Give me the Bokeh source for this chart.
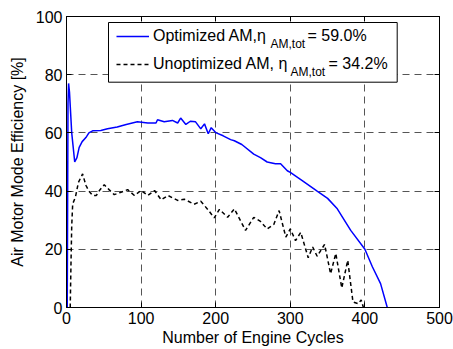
from bokeh.plotting import figure
from bokeh.models import (Range1d, FixedTicker, LinearAxis, Legend, LegendItem, Label,
                          BoxAnnotation)
from bokeh.embed import file_html
from bokeh.resources import INLINE

# ---------------- data ----------------
opt_x = [1, 2, 2.8, 4, 7, 11, 14, 17, 21, 26, 30, 35, 46, 55, 68, 80, 95, 109, 120, 122,
         131, 142, 149, 153, 160, 166, 173, 180, 185, 190, 194, 200, 210, 220, 225, 235,
         251, 260, 269, 280, 287, 296, 300, 316, 336, 350, 363, 381, 400, 410, 421, 430]
opt_y = [0, 70, 77, 74, 60, 50, 51.5, 55, 57, 58.4, 60, 60.7, 60.8, 61.4, 62, 62.9, 63.8,
         63.4, 63.4, 64.5, 63.8, 64.3, 63.4, 65.1, 62.9, 64, 63.8, 61.4, 63.1, 59.7, 61.8,
         60.1, 59, 57.7, 57.3, 56, 52.7, 51.5, 50, 49.4, 49.4, 47, 46.4, 43.6, 40, 37.5,
         33.9, 26.5, 20, 14, 8.2, 0]

unopt_x = [5, 6, 7, 8.3, 12, 16, 21.6, 26, 30, 35, 40, 45, 50.6, 57, 64, 72, 82, 91, 100,
           109, 118, 127, 136, 149, 158, 171, 180, 190, 198, 205, 216, 225, 240, 251, 260,
           269, 278, 285, 294, 300, 307, 314, 324, 330, 336, 346, 354, 361, 369, 377, 384,
           391, 395, 398]
unopt_y = [0, 15, 28, 35.6, 38, 43, 45.9, 42, 40, 38.5, 38.5, 40.5, 42.2, 40.5, 38.8, 39.5,
           40.5, 38.5, 40.2, 38.5, 40.2, 37, 38.5, 36.8, 37.2, 35.5, 36.5, 33.5, 30.8, 33.7,
           31, 33.9, 26.5, 31, 29.6, 27, 28.6, 33.3, 24.2, 27, 23, 25.8, 17.1, 20.8, 17.6,
           21.7, 11.6, 18.6, 6.7, 16.2, 1.9, 1.3, 2.6, 0]

x_ticks = [0, 100, 200, 300, 400, 500]
y_ticks = [0, 20, 40, 60, 80, 100]

opt_label = "Optimized AM,\u03b7"
opt_value = "= 59.0%"
unopt_label = "Unoptimized AM, \u03b7"
unopt_value = "= 34.2%"
sub_label = "AM,tot"

# ---------------- layout ----------------
W, H = 453, 349
ML, MR, MT, MB = 66, 14, 16, 42
FONT = "Liberation Sans"

p = figure(width=W, height=H, output_backend="svg", toolbar_location=None,
           x_range=Range1d(0, 500), y_range=Range1d(0, 100),
           min_border_left=ML, min_border_right=MR, min_border_top=MT, min_border_bottom=MB,
           x_axis_label="Number of Engine Cycles",
           y_axis_label="Air Motor Mode Efficiency [%]")
p.background_fill_color = "white"
p.border_fill_color = "white"
p.outline_line_color = "black"
p.outline_line_width = 1

for ax, ticks in ((p.xaxis[0], x_ticks), (p.yaxis[0], y_ticks)):
    ax.ticker = FixedTicker(ticks=ticks)
    ax.major_tick_in = 5
    ax.major_tick_out = 0
    ax.minor_tick_line_color = None
    ax.axis_line_color = "black"
    ax.major_tick_line_color = "black"
    ax.major_label_text_font = FONT
    ax.major_label_text_font_size = "16px"
    ax.major_label_text_color = "black"
    ax.axis_label_text_font = FONT
    ax.axis_label_text_font_size = "16px"
    ax.axis_label_text_font_style = "normal"
    ax.axis_label_text_color = "black"
    ax.major_label_standoff = 4

p.xaxis[0].axis_label_standoff = 2
p.yaxis[0].axis_label_standoff = 7

for g, ticks in ((p.xgrid[0], x_ticks), (p.ygrid[0], y_ticks)):
    g.ticker = FixedTicker(ticks=ticks)
    g.grid_line_color = "#555555"
    g.grid_line_dash = "7 5"
    g.grid_line_width = 1

# tick marks on the top and right edges (no labels)
for loc, ticks in (("above", x_ticks), ("right", y_ticks)):
    ax = LinearAxis(ticker=FixedTicker(ticks=ticks), major_label_text_font_size="1px",
                    major_label_text_color=None,
                    major_tick_in=5, major_tick_out=0, minor_tick_line_color=None,
                    major_label_standoff=0, axis_line_color="black",
                    major_tick_line_color="black")
    p.add_layout(ax, loc)

r_opt = p.line(opt_x, opt_y, line_color="#0000ff", line_width=1.5)
r_unopt = p.line(unopt_x, unopt_y, line_color="black", line_width=1.5, line_dash="4 3")

# ---------------- legend ----------------
FL = ML
FW = W - ML - MR
FB = H - MB
FH = H - MT - MB


def dx(px):
    return (px - FL) / FW * 500


def dy(py):
    return (FB - py) / FH * 100


frame_box = BoxAnnotation(left=dx(108), right=dx(396.7), top=dy(22), bottom=dy(81.7),
                          fill_color="white", fill_alpha=1.0,
                          line_color="black", line_width=1, line_alpha=1.0)
p.add_layout(frame_box)

legend = Legend(items=[LegendItem(label=opt_label, renderers=[r_opt]),
                       LegendItem(label=unopt_label, renderers=[r_unopt])],
                location=(116 - FL, FB - 74.2))
legend.padding = 5
legend.spacing = 8
legend.margin = 0
legend.glyph_width = 33
legend.glyph_height = 20
legend.label_height = 20
legend.label_standoff = 4
legend.label_text_font = FONT
legend.label_text_font_size = "16px"
legend.label_text_color = "black"
legend.border_line_color = None
legend.background_fill_color = None
legend.background_fill_alpha = 0
p.add_layout(legend)

texts = [
    (sub_label, 270, 43.5, "12px"),
    (opt_value, 307, 34.5, "16px"),
    (sub_label, 290, 71.3, "12px"),
    (unopt_value, 328, 62.8, "16px"),
]
for t, px, py, fs in texts:
    lab = Label(x=dx(px), y=dy(py), text=t, text_font=FONT, text_font_size=fs,
                text_color="black", text_baseline="alphabetic", text_align="left")
    lab.level = "overlay"
    p.add_layout(lab)

open("out.html", "w").write(file_html(p, INLINE))
